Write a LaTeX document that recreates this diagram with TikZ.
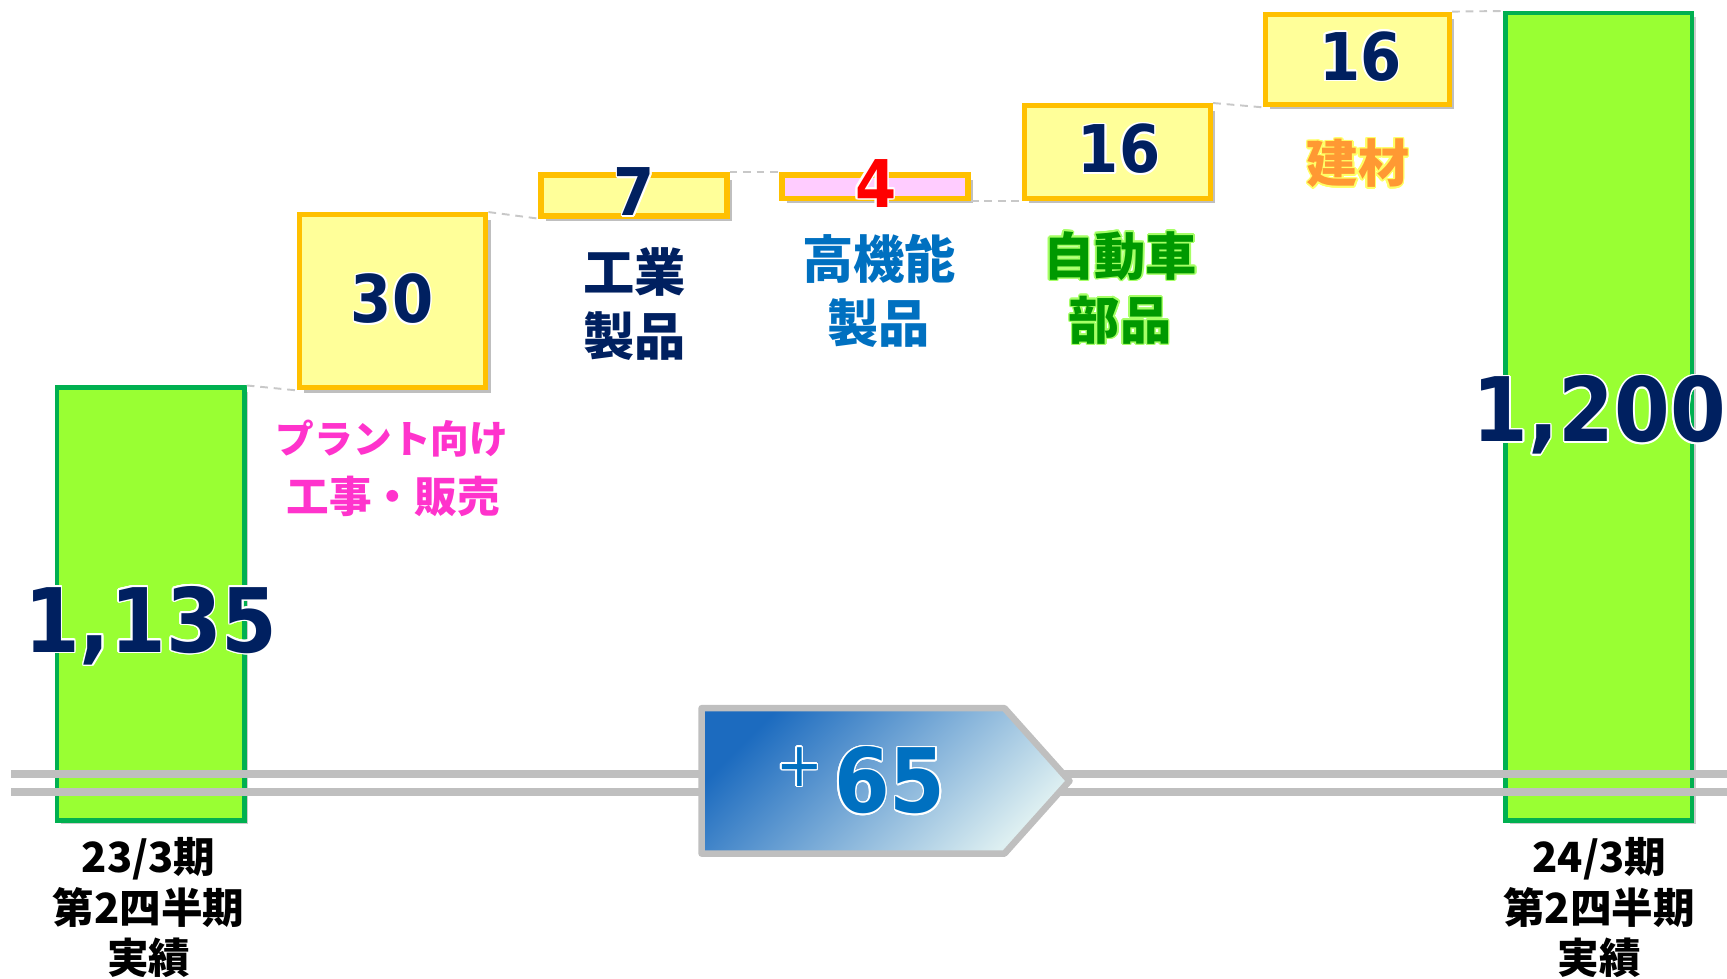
\documentclass[tikz,border=0pt]{standalone}
\usepackage{fontspec}
\usepackage{contour}
\usetikzlibrary{fit,shadows}
\newfontfamily\jpfont{Noto Sans CJK JP}
\newfontfamily\numfont{DejaVu Sans Condensed}
\contourlength{0.8pt}
\definecolor{barfill}{HTML}{99FF33}
\definecolor{bardraw}{HTML}{00B050}
\definecolor{boxfill}{HTML}{FFFF99}
\definecolor{boxdraw}{HTML}{FFC000}
\definecolor{minusfill}{HTML}{FFCCFF}
\definecolor{navy}{HTML}{002060}
\definecolor{midblue}{HTML}{0070C0}
\definecolor{leafgreen}{HTML}{009900}
\definecolor{glowgreen}{HTML}{A6FF66}
\definecolor{amber}{HTML}{FF9933}
\definecolor{glowyellow}{HTML}{FFFF66}
\definecolor{rose}{HTML}{FF33CC}
\definecolor{railgray}{HTML}{BFBFBF}
\definecolor{linkgray}{HTML}{C8C8C8}
\definecolor{arrowdark}{HTML}{1C6BBF}
\definecolor{arrowlight}{HTML}{DDEFF1}

\begin{document}
\begin{tikzpicture}[x=0.02cm, y=-0.02cm,
    bar/.style={draw=bardraw, fill=barfill, line width=2.3pt, inner sep=0pt,
        drop shadow={opacity=0.2, fill=black, shadow xshift=2pt, shadow yshift=-2pt}},
    stepbox/.style={draw=boxdraw, fill=boxfill, line width=2.8pt, inner sep=0pt,
        drop shadow={opacity=0.25, fill=black, shadow xshift=2.5pt, shadow yshift=-2.5pt}},
    link/.style={draw=linkgray, line width=1pt, dash pattern=on 4pt off 3pt},
    rail/.style={draw=railgray, line width=4pt},
    bignum/.style={font=\numfont\bfseries\fontsize{46}{46}\selectfont, text=navy, anchor=base},
    num/.style={font=\numfont\bfseries\fontsize{34}{34}\selectfont, text=navy, anchor=base},
    seg/.style={font=\jpfont\bfseries\fontsize{26.5}{33}\selectfont, align=center},
    period/.style={font=\jpfont\bfseries\fontsize{21.5}{26}\selectfont, align=center}]
    \useasboundingbox (0,0) rectangle (1568,888);

    % Start and end bars
    \node[bar, fit={(52,352)(222,745)}] (start) {};
    \node[bar, fit={(1367,12)(1536,745)}] (end) {};

    % Steps
    \node[stepbox, fit={(272,195)(441,352)}] (s30) {};
    \node[stepbox, fit={(491,159)(660,196)}] (s7) {};
    \node[stepbox, fill=minusfill, fit={(710,159)(879,180)}] (s4) {};
    \node[stepbox, fit={(930,96)(1099,180)}] (s16a) {};
    \node[stepbox, fit={(1149,13)(1316,95)}] (s16b) {};

    % Dashed links
    \draw[link] (start.north east) -- (s30.south west);
    \draw[link] (s30.north east) -- (s7.south west);
    \draw[link] (s7.north east) -- (s4.north west);
    \draw[link] (s4.south east) -- (s16a.south west);
    \draw[link] (s16a.north east) -- (s16b.south west);
    \draw[link] (s16b.north east) -- (end.north west);

    % Axis break
    \draw[rail] (10,703) -- (1568,703);
    \draw[rail] (10,719) -- (1568,719);

    % Total change arrow
    \shadedraw[top color=arrowdark, bottom color=arrowlight, shading angle=45,
        draw=railgray, line width=3.4pt, line join=round]
        (637,643) -- (912,643) -- (971,709) -- (912,775) -- (637,775) -- cycle;
    \node[font=\numfont\fontsize{32}{32}\selectfont, text=midblue] (plus) at (726,697) {\contour{white}{+}};
    \node[font=\numfont\bfseries\fontsize{46}{46}\selectfont, text=midblue, anchor=base] (gain) at (808,738) {\contour{white}{65}};

    % Values
    \node[bignum] (vstart) at (137,592) {\contour{white}{1,135}};
    \node[bignum] (vend) at (1452,401) {\contour{white}{1,200}};
    \node[num] (v30) at (356,293) {\contour{white}{30}};
    \node[num] (v7) at (576,196) {\contour{white}{7}};
    \node[num, text=red] (v4) at (795,188) {\contour{white}{4}};
    \node[num] (v16a) at (1016,157) {\contour{white}{16}};
    \node[num] (v16b) at (1235,73) {\contour{white}{16}};

    % Segment labels
    \node[font=\jpfont\bfseries\fontsize{20}{20}\selectfont, text=rose] (l30a) at (356,398) {プラント向け};
    \node[font=\jpfont\bfseries\fontsize{22}{22}\selectfont, text=rose] (l30b) at (357,451) {工事・販売};
    \node[seg, text=navy] (l7) at (576,276) {工業\\製品};
    \node[seg, text=midblue] (l4) at (798,264) {高機能\\製品};
    \node[seg, text=leafgreen] (l16a) at (1017,262) {\contour{glowgreen}{自動車}\\\contour{glowgreen}{部品}};
    \node[seg, text=amber] (l16b) at (1233,149) {\contour{glowyellow}{建材}};

    % Periods
    \node[period] (pstart) at (135,824) {23/3期\\第2四半期\\実績};
    \node[period] (pend) at (1452,824) {24/3期\\第2四半期\\実績};
\end{tikzpicture}
\end{document}
